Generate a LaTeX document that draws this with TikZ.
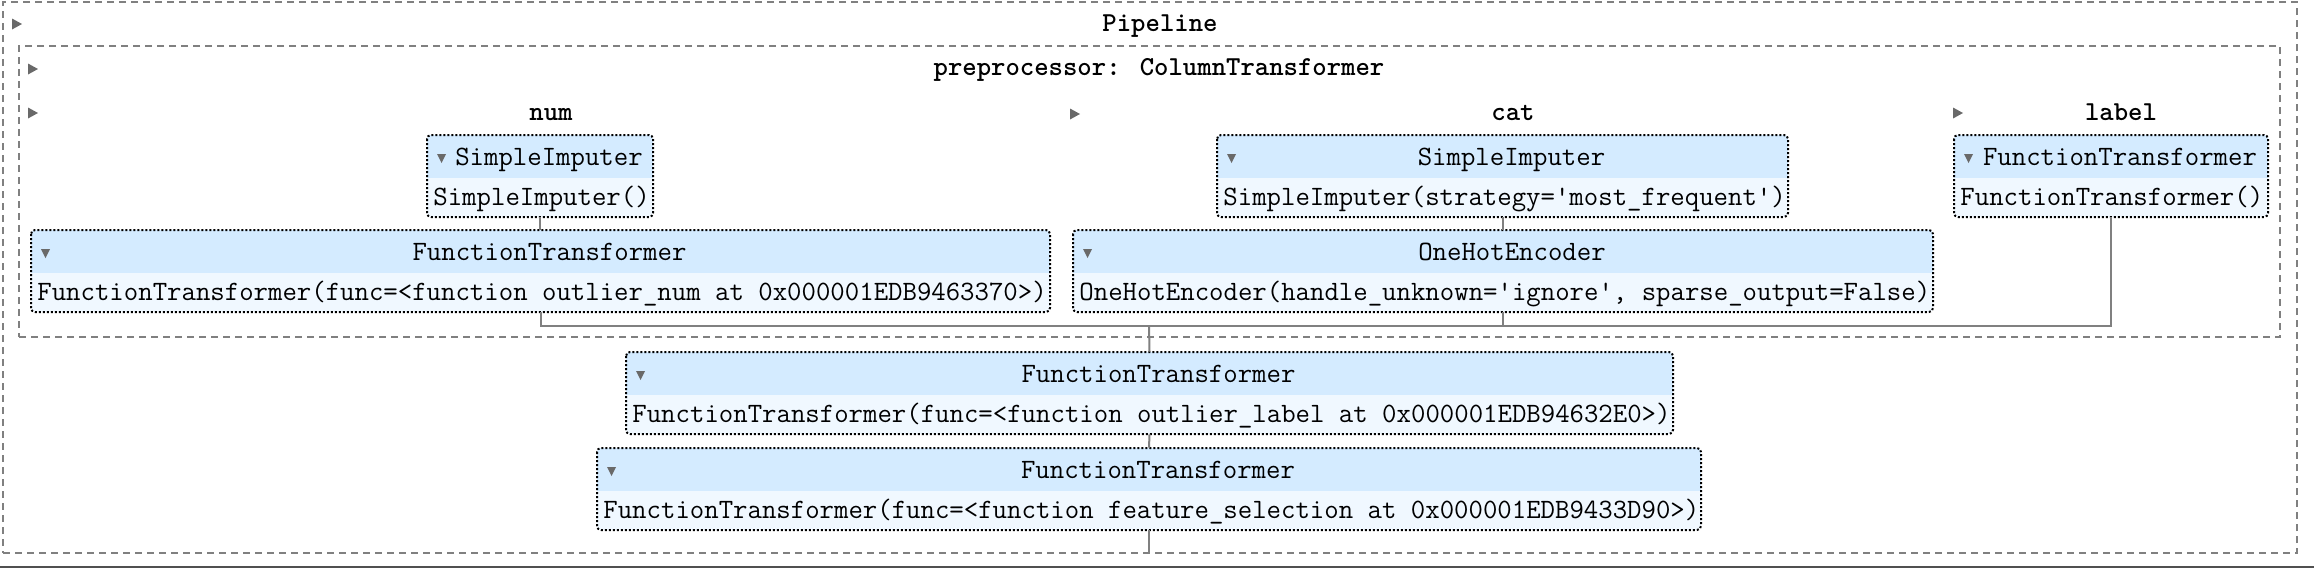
\documentclass[tikz,border=0pt]{standalone}
\usepackage{fontspec}
\usetikzlibrary{fit}
\definecolor{hdrc}{HTML}{D4EBFF}
\definecolor{bodyc}{HTML}{F0F8FF}
\definecolor{arrowc}{HTML}{696969}
\definecolor{linec}{HTML}{808080}
\definecolor{edgec}{HTML}{505050}
\tikzset{
  dashbox/.style={draw=linec, line width=1pt, dash pattern=on 3.5pt off 2.5pt, inner sep=0pt},
  dotbox/.style={draw=black, line width=1pt, dash pattern=on 1pt off 1pt, rounded corners=2pt},
  conn/.style={draw=linec, line width=1pt},
  txt/.style={font=\ttfamily\fontsize{14}{16}\selectfont, inner sep=0pt, anchor=base},
  ttl/.style={font=\ttfamily\bfseries\fontsize{13.7}{16}\selectfont, inner sep=0pt, anchor=base},
  area/.style={inner sep=0pt, draw=none},
}
% #1 name, #2 left, #3 top, #4 right, #5 header bottom, #6 bottom, #7 header, #8 body
\newcommand\EstBox[8]{%
  \begin{scope}
    \clip[rounded corners=2pt] (#2,#3) rectangle (#4,#6);
    \fill[bodyc] (#2,#3) rectangle (#4,#6);
    \fill[hdrc] (#2,#3) rectangle (#4,#5);
  \end{scope}
  \path[dotbox] (#2,#3) rectangle (#4,#6);
  \node[area, fit={(#2,#3) (#4,#6)}] (#1) {};
  \fill[arrowc] (#2+10,#3+19) -- (#2+19,#3+19) -- (#2+14.5,#3+28) -- cycle;
  \node[txt] (#1-h) at ({(#2+18+#4)/2}, #3+30) {#7};
  \node[txt, anchor=base west] (#1-b) at (#2+6, #5+27) {#8};
}
\newcommand\RightTri{}
\renewcommand\RightTri[2]{\fill[arrowc] (#1,#2-5.5) -- (#1,#2+5.5) -- (#1+10,#2) -- cycle;}
\begin{document}
\begin{tikzpicture}[x=0.5pt, y=-0.5pt]
\useasboundingbox (0,0) rectangle (2314,568);
% outer wrappers
\node[dashbox, fit={(3,2) (2297,553)}] (pipe) {};
\node[dashbox, fit={(19,46) (2280,337)}] (ct) {};
\draw[draw=edgec, line width=1pt] (0,567) -- (2314,567);
% titles
\RightTri{12}{24}
\node[ttl] (pipet) at (1160,31) {Pipeline};
\RightTri{28}{69}
\node[ttl] (ctt) at (1159,75) {preprocessor: ColumnTransformer};
\RightTri{28}{113}
\node[ttl] (numt) at (551,120) {num};
\RightTri{1070}{114}
\node[ttl] (catt) at (1513,120) {cat};
\RightTri{1953}{113}
\node[ttl] (labt) at (2121,120) {label};
% estimators
\EstBox{sinum}{427}{135}{653}{178}{217}{SimpleImputer}{SimpleImputer()}
\EstBox{ftnum}{31}{230}{1050}{273}{312}{FunctionTransformer}{FunctionTransformer(func=<function outlier\_num at 0x000001EDB9463370>)}
\EstBox{sicat}{1217}{135}{1788}{178}{217}{SimpleImputer}{SimpleImputer(strategy='most\_frequent')}
\EstBox{ohe}{1073}{230}{1933}{273}{312}{OneHotEncoder}{OneHotEncoder(handle\_unknown='ignore', sparse\_output=False)}
\EstBox{ftlab}{1954}{135}{2268}{178}{217}{FunctionTransformer}{FunctionTransformer()}
\EstBox{ftol}{626}{352}{1673}{395}{434}{FunctionTransformer}{FunctionTransformer(func=<function outlier\_label at 0x000001EDB94632E0>)}
\EstBox{ftfs}{597}{448}{1701}{491}{530}{FunctionTransformer}{FunctionTransformer(func=<function feature\_selection at 0x000001EDB9433D90>)}
% connectors
\coordinate (join) at (1149,326);
\draw[conn] (sinum.south) -- (sinum.south |- ftnum.north);
\draw[conn] (sicat.south) -- (sicat.south |- ohe.north);
\draw[conn] (ftnum.south) |- (join);
\draw[conn] (ftlab.south) |- (join);
\draw[conn] (ohe.south) -- (ohe.south |- join);
\draw[conn] (join) -- (ftol.north);
\draw[conn] (ftol.south) -- (ftfs.north);
\draw[conn] (ftfs.south) -- (ftfs.south |- pipe.south);
\end{tikzpicture}
\end{document}
